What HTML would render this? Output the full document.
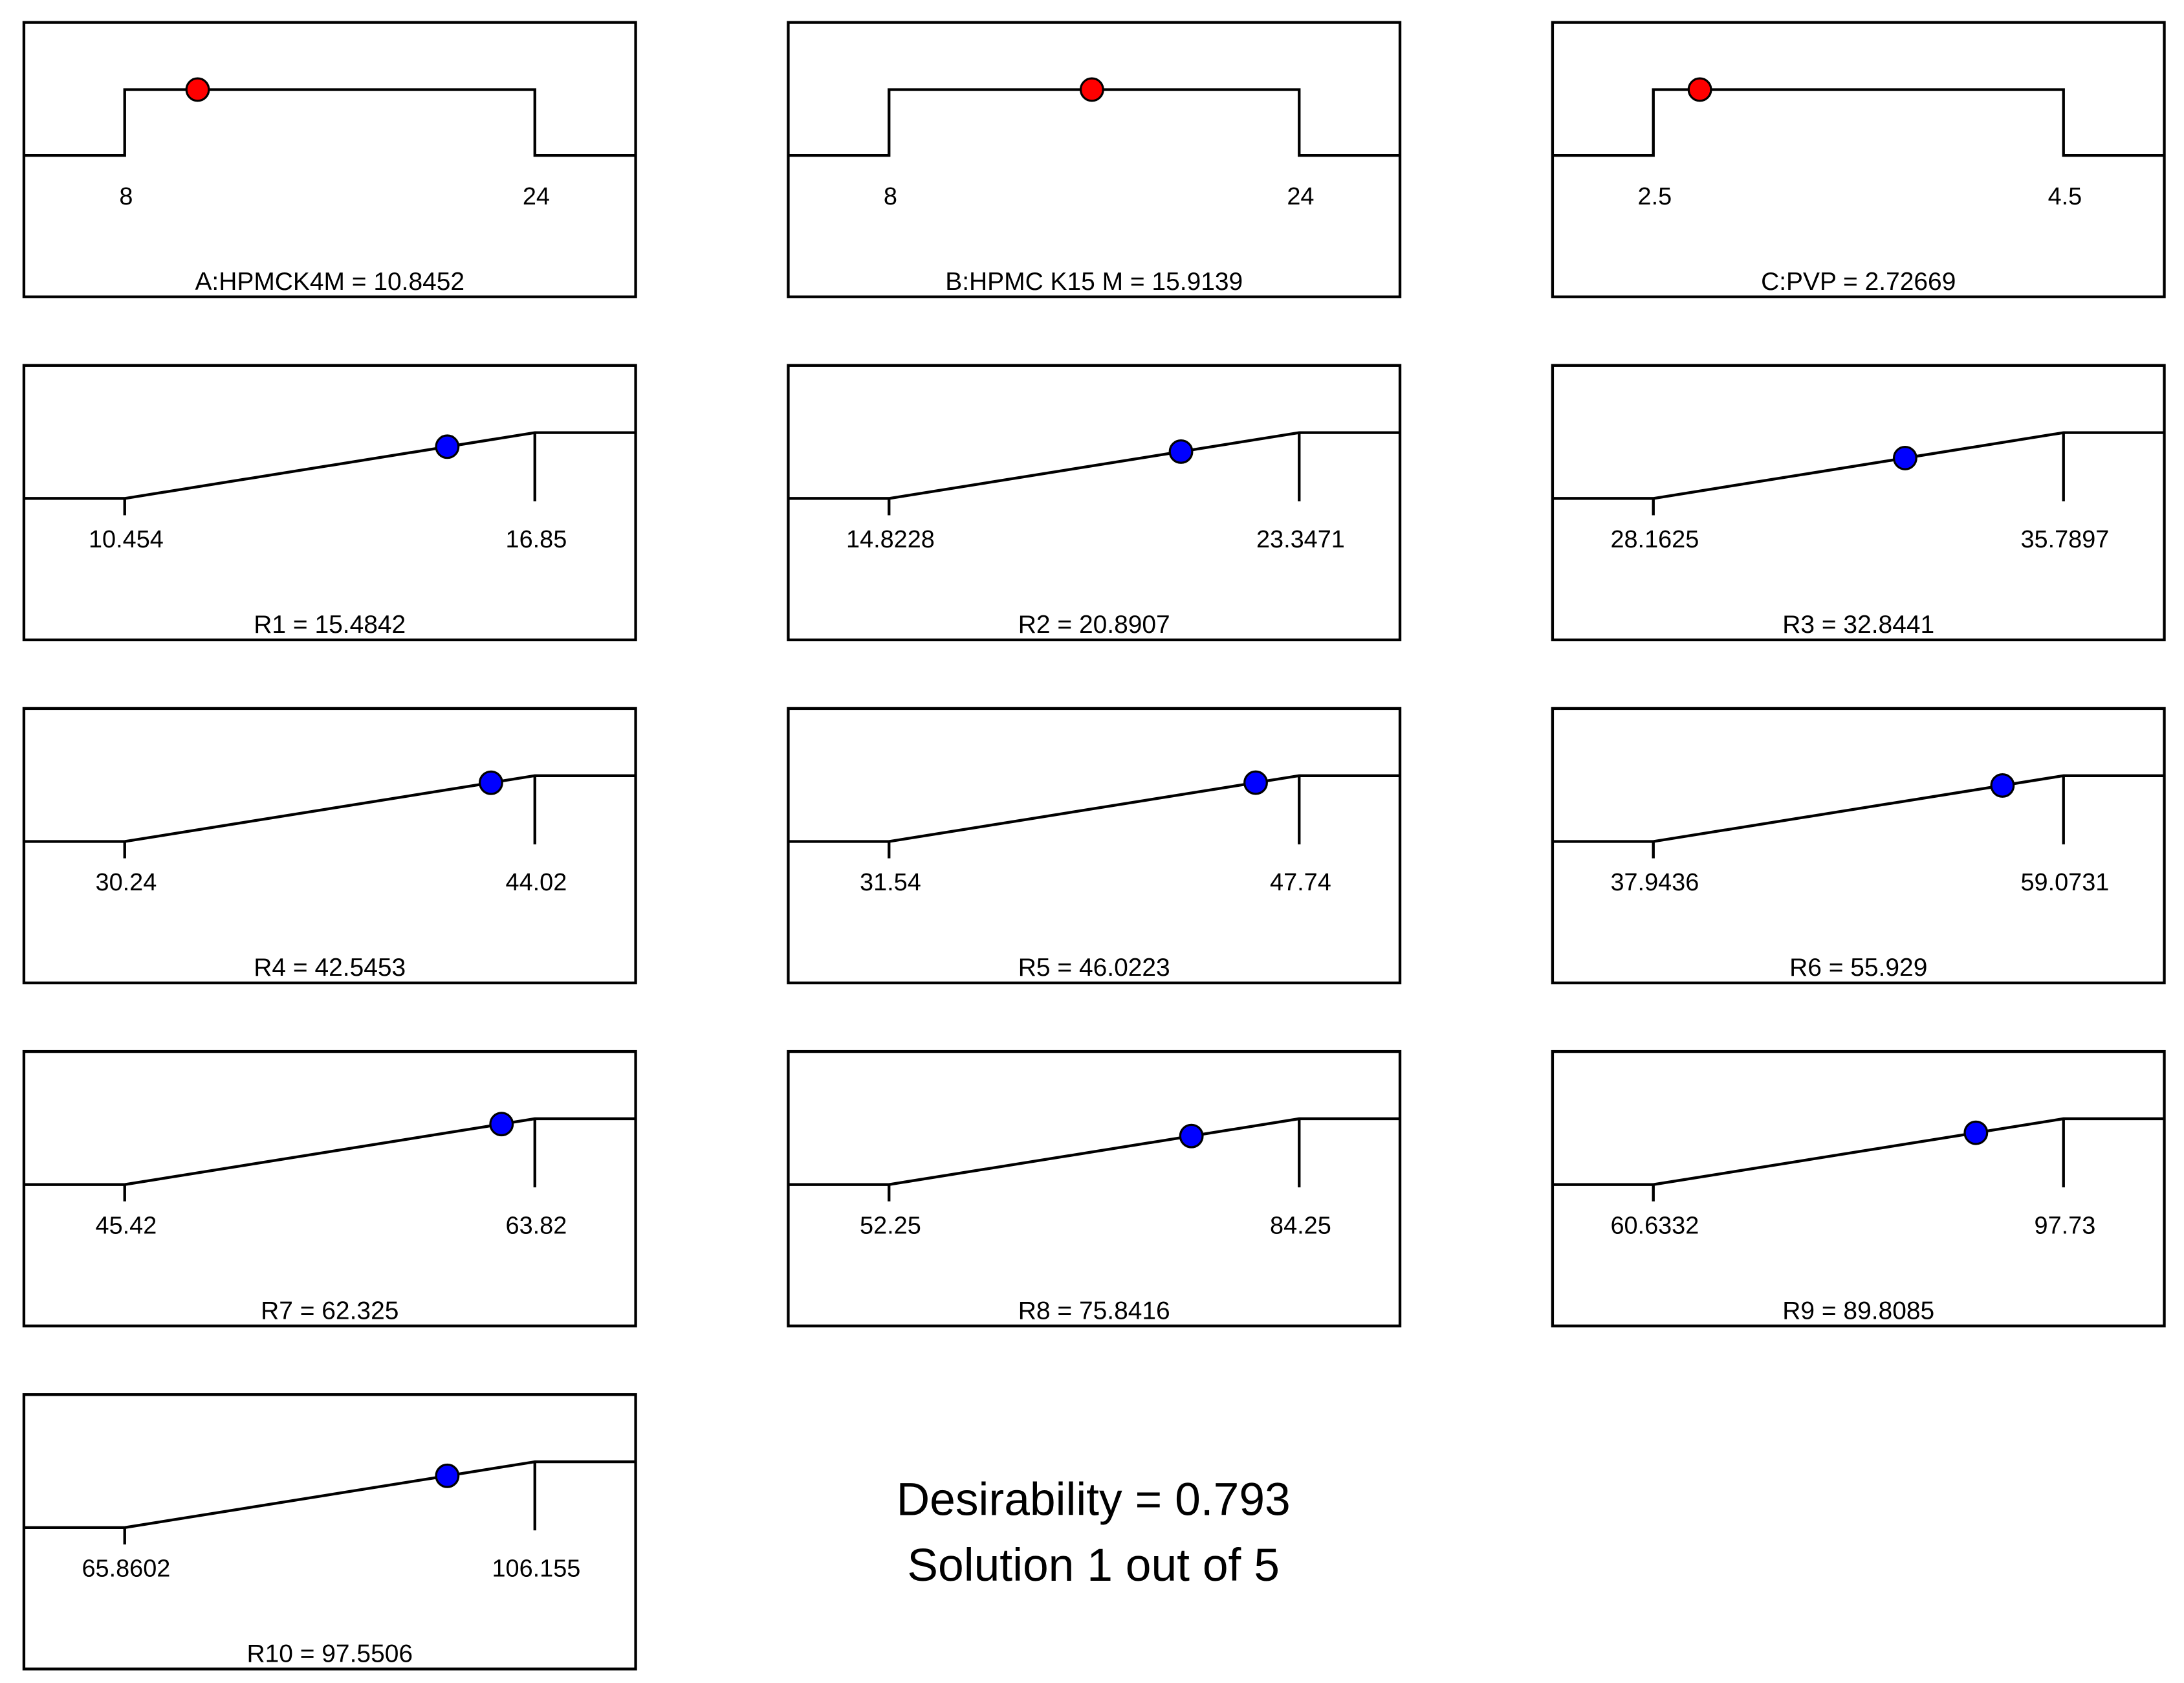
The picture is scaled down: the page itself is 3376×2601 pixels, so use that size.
<!DOCTYPE html>
<html><head><meta charset="utf-8">
<style>html,body{margin:0;padding:0;background:#fff}svg{display:block}</style>
</head><body>
<svg id="chart" width="3376" height="2601" viewBox="0 0 1560 1202" xmlns="http://www.w3.org/2000/svg" font-family="'Liberation Sans', 'DejaVu Sans', sans-serif">
<text x="781" y="1082" font-size="33" text-anchor="middle">Desirability = 0.793</text>
<text x="781" y="1129" font-size="33" text-anchor="middle">Solution 1 out of 5</text>
</svg>
<script>
const panelNames = ["A:HPMCK4M","B:HPMC K15 M","C:PVP","R1","R2","R3","R4","R5","R6","R7","R8","R9","R10"];
const lowLabels = ["8","8","2.5","10.454","14.8228","28.1625","30.24","31.54","37.9436","45.42","52.25","60.6332","65.8602"];
const highLabels = ["24","24","4.5","16.85","23.3471","35.7897","44.02","47.74","59.0731","63.82","84.25","97.73","106.155"];
const valueLabels = ["10.8452","15.9139","2.72669","15.4842","20.8907","32.8441","42.5453","46.0223","55.929","62.325","75.8416","89.8085","97.5506"];
const kinds = ["factor","factor","factor","resp","resp","resp","resp","resp","resp","resp","resp","resp","resp"];

const svg = document.getElementById('chart');
const NS = 'http://www.w3.org/2000/svg';
function mk(tag, attrs){const e=document.createElementNS(NS,tag);for(const k in attrs)e.setAttribute(k,attrs[k]);return e;}

const colX = [17,563,1109], rowY = [16,261,506,751,996];
const W = 437, H = 196;

panelNames.forEach((name,i)=>{
  const bx = colX[i%3], by = rowY[Math.floor(i/3)];
  const g = mk('g',{});
  
  
  svg.appendChild(g);
  const rect = mk('rect',{x:bx,y:by,width:W,height:H,fill:'none',stroke:'#000','stroke-width':2});
  
  
  g.appendChild(rect);
  const lo = parseFloat(lowLabels[i]), hi = parseFloat(highLabels[i]), v = parseFloat(valueLabels[i]);
  const x0 = bx+72, x1 = bx+365;
  const yLow = by+95, yHigh = by+48;
  const xs = t => x0 + (t-lo)/(hi-lo)*(x1-x0);
  let px, py, path;
  if(kinds[i]==='factor'){
    path = `M${bx} ${yLow} H${x0} V${yHigh} H${x1} V${yLow} H${bx+W}`;
    px = xs(v); py = yHigh;
  } else {
    path = `M${bx} ${yLow} H${x0} L${x1} ${yHigh} H${bx+W} M${x0} ${yLow} V${yLow+12} M${x1} ${yHigh} V${yLow+2}`;
    px = xs(v); py = yLow + (px-x0)/(x1-x0)*(yHigh-yLow);
  }
  const line = mk('path',{d:path,fill:'none',stroke:'#000','stroke-width':2});
  
  
  g.appendChild(line);
  const dot = mk('circle',{cx:px,cy:py,r:8,fill:kinds[i]==='factor'?'#ff0000':'#0000ff',stroke:'#000','stroke-width':1.5});
  
  
  g.appendChild(dot);
  const t1 = mk('text',{x:x0+1,y:by+130,'font-size':17.5,'text-anchor':'middle'}); t1.textContent = lowLabels[i];
  
  
  g.appendChild(t1);
  const t2 = mk('text',{x:x1+1,y:by+130,'font-size':17.5,'text-anchor':'middle'}); t2.textContent = highLabels[i];
  
  
  g.appendChild(t2);
  const t3 = mk('text',{x:bx+W/2,y:by+191,'font-size':18,'text-anchor':'middle'}); t3.textContent = name + ' = ' + valueLabels[i];
  
  
  g.appendChild(t3);
});
</script>
</body></html>
